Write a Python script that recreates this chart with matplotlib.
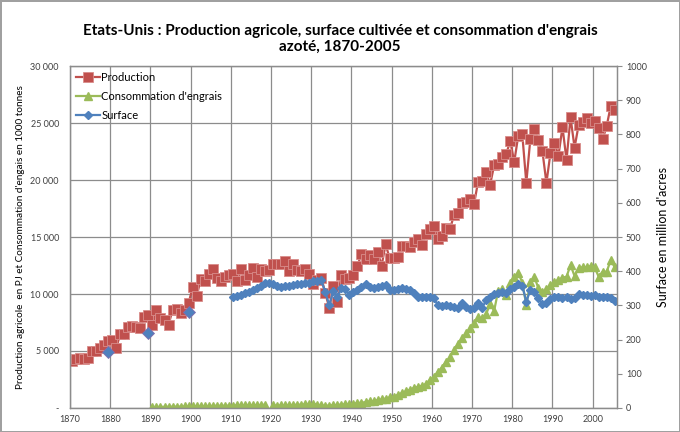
import numpy as np
import matplotlib.pyplot as plt
from matplotlib.ticker import FixedLocator, FuncFormatter

plt.rcParams['font.family'] = ['Lato', 'DejaVu Sans']

years = np.arange(1870, 2006)

# production agricole (PJ), 1870-2005
production = [
    4100, 4300, 4400, 4300, 4400, 5000, 5000, 5300, 5500, 5900,
    6000, 5300, 6500, 6500, 7100, 7200, 7100, 7000, 8000, 8200,
    7300, 8600, 7900, 7700, 7300, 8600, 8700, 8300, 8600, 9200,
    10600, 9800, 11300, 11100, 11800, 12200, 11400, 11100, 11500, 11700,
    11800, 11100, 12200, 11200, 11700, 12300, 11500, 12200, 12000, 12100,
    12600, 12600, 12600, 12900, 12000, 12600, 12100, 12000, 12200, 11800,
    10900, 11200, 11400, 10100, 8750, 10700, 9300, 11700, 11300, 11400,
    11700, 12450, 13550, 13050, 13400, 13050, 13700, 12500, 14350, 13150,
    13200, 13250, 14200, 14200, 14100, 14600, 14800, 14300, 15300, 15700,
    15950, 14800, 15050, 15750, 15700, 16900, 17100, 18000, 18100, 18300,
    17900, 19850, 19900, 20700, 19600, 21300, 21450, 22000, 22300, 23400,
    21600, 23900, 24000, 19750, 23600, 24500, 23500, 22550, 19750, 22350,
    23250, 22150, 24650, 21750, 25500, 22850, 24800, 25100, 25450, 25000,
    25150, 24550, 23600, 24750, 26500, 26150,
]

# consommation d'engrais azoté (1000 t), 1890-2005, 1919 manquant
engrais_1890 = [
    80, 90, 100, 100, 110, 110, 120, 120, 130, 140,
    150, 150, 160, 170, 170, 180, 190, 190, 200, 200,
    210, 220, 230, 230, 240, 230, 240, 260, 290, np.nan,
    220, 200, 220, 240, 250, 270, 280, 290, 320, 330,
    350, 300, 220, 200, 210, 240, 270, 300, 320, 340,
    380, 420, 460, 520, 580, 620, 680, 750, 820, 920,
    1000, 1150, 1300, 1450, 1600, 1750, 1850, 1950, 2100, 2450,
    2700, 3190, 3540, 4060, 4440, 5090, 5610, 6110, 6550, 6990,
    7480, 7950, 7860, 8240, 9120, 8530, 10290, 10410, 9910, 10990,
    11520, 11870, 10990, 9030, 11080, 11520, 10500, 10200, 10410, 10790,
    11080, 11230, 11430, 11520, 12540, 11580, 12250, 12340, 12340, 12450,
    12340, 11520, 11960, 11960, 12980, 12340,
]

# surface cultivée (million d'acres): recensements puis série annuelle 1910-2005
surface_census_years = [1879, 1889, 1899]
surface_census = [165, 218, 282]
surface_1910 = [
    324, 327, 331, 336, 340, 345, 350, 357, 365, 366,
    363, 358, 354, 356, 358, 360, 362, 364, 367, 367,
    370, 372, 374, 338, 301, 343, 324, 350, 347, 330,
    340, 345, 353, 363, 355, 352, 355, 357, 360, 345,
    345, 347, 350, 347, 345, 335, 326, 326, 326, 326,
    322, 300, 297, 300, 299, 296, 292, 306, 296, 289,
    292, 306, 292, 316, 326, 333, 337, 340, 335, 347,
    355, 363, 357, 311, 345, 340, 321, 304, 308, 318,
    324, 326, 321, 324, 318, 321, 333, 330, 330, 327,
    330, 324, 324, 325, 321, 314,
]

engrais = np.full(len(years), np.nan)
engrais[years >= 1890] = engrais_1890
surface = np.full(len(years), np.nan)
surface[years >= 1910] = surface_1910
for y, v in zip(surface_census_years, surface_census):
    surface[years == y] = v

red = '#C0504D'
green = '#9BBB59'
blue = '#4F81BD'
grid_c = '#8C8C8C'

fig = plt.figure(figsize=(6.8, 4.32), dpi=100)
fig.patch.set_edgecolor('#A0A0A0')
fig.patch.set_linewidth(1.0)
ax = fig.add_axes([0.103, 0.0556, 0.804, 0.7914])
ax2 = ax.twinx()

l1, = ax.plot(years, production, color=red, lw=1.6, marker='s', ms=6.5,
              mfc=red, mec='#D98C8A', mew=0.6, label='Production')
l2, = ax.plot(years, engrais, color=green, lw=1.6, marker='^', ms=5.5,
              mfc=green, mec=green, label="Consommation d'engrais")
l3, = ax2.plot(years, surface, color=blue, lw=1.6, marker='D', ms=3.8,
               mfc=blue, mec=blue, label='Surface')
ax2.plot(surface_census_years, surface_census, ls='none', marker='D', ms=6.5,
         mfc=blue, mec='#7F6FB0', mew=0.6)

ax.set_xlim(1869.5, 2005.5)
ax.set_ylim(0, 30000)
ax2.set_ylim(0, 1000)

decades = np.arange(1870, 2001, 10)
ax.xaxis.set_major_locator(FixedLocator(decades - 0.5))
ax.xaxis.set_major_formatter(FuncFormatter(lambda v, p: '%d' % round(v + 0.5)))
ax.yaxis.set_major_locator(FixedLocator(np.arange(0, 30001, 5000)))
ax.yaxis.set_major_formatter(FuncFormatter(
    lambda v, p: '-' if v == 0 else '{:,.0f}'.format(v).replace(',', ' ')))
ax2.yaxis.set_major_locator(FixedLocator(np.arange(0, 1001, 100)))

ax.grid(True, color=grid_c, lw=0.9)
ax.set_axisbelow(True)
ax.tick_params(axis='both', length=0, labelsize=6.5, colors='#404040', pad=8)
ax.tick_params(axis='x', pad=5)
ax2.tick_params(axis='y', length=3.5, width=0.8, color=grid_c, labelsize=6.5,
                colors='#404040', pad=3)
for a in (ax, ax2):
    for s in a.spines.values():
        s.set_color(grid_c)
        s.set_linewidth(0.9)

ax.set_ylabel("Production agricole  en PJ et Consommation d'engais en 1000 tonnes",
              fontsize=7.2, labelpad=4)
ax2.set_ylabel("Surface en million d'acres", fontsize=9, labelpad=7)

fig.suptitle("Etats-Unis : Production agricole, surface cultivée et consommation d'engrais\nazoté, 1870-2005",
             fontsize=11, fontweight='bold', y=0.945, linespacing=1.2)

ax.legend(handles=[l1, l2, l3], loc='upper left', frameon=False, fontsize=8,
          handlelength=2.2, handletextpad=0.1, labelspacing=0.75,
          borderaxespad=0.1)

fig.savefig('out.png', dpi=100)
